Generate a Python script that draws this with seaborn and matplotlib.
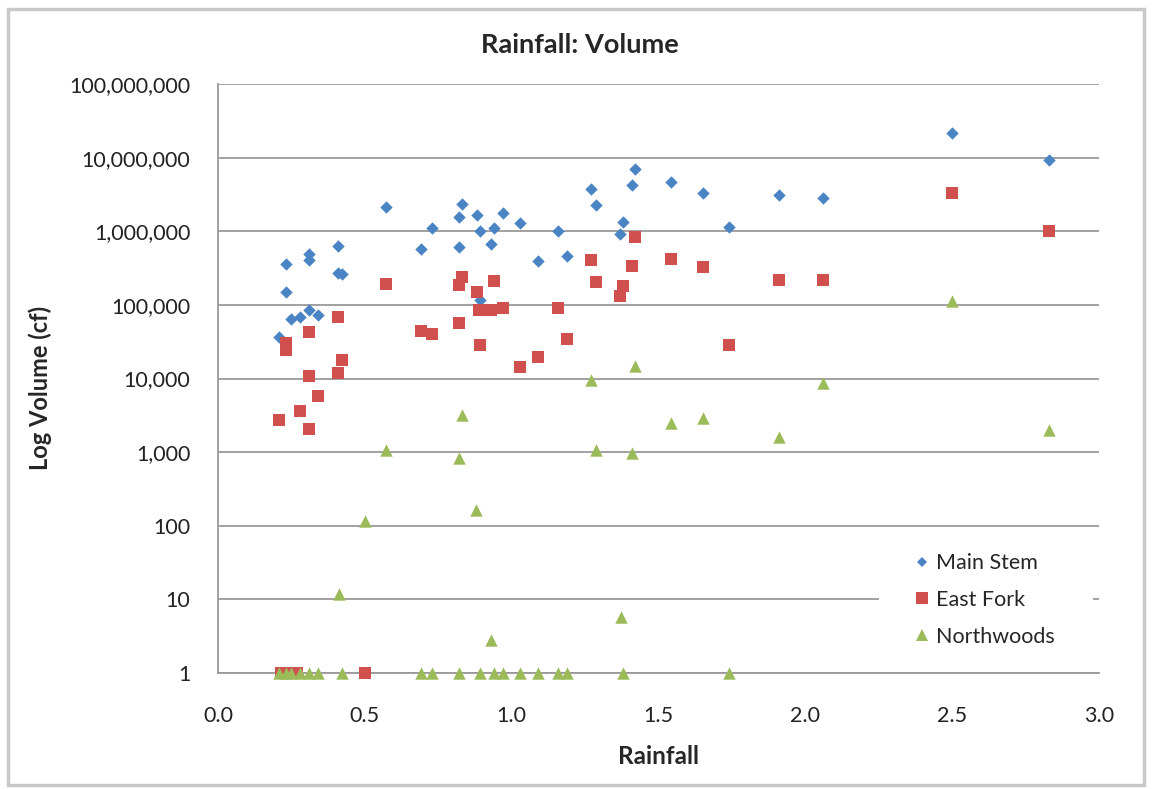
import seaborn as sns
import matplotlib.pyplot as plt
import pandas as pd
from matplotlib.lines import Line2D
from matplotlib.patches import Rectangle
from matplotlib.ticker import FuncFormatter

# Rainfall (x) and volume (cf) per site
ms_rain = [0.207, 0.23, 0.23, 0.249, 0.279, 0.31, 0.339, 0.31, 0.31, 0.41, 0.41, 0.421,
           0.571, 0.69, 0.73, 0.831, 0.82, 0.82, 0.881, 0.892, 0.892, 0.93, 0.94, 0.969,
           1.03, 1.09, 1.159, 1.19, 1.27, 1.287, 1.38, 1.369, 1.421, 1.41, 1.541, 1.65,
           1.741, 1.91, 2.061, 2.50, 2.83]
ms_vol = [36700, 355000, 148000, 65000, 69000, 86000, 74000, 490000, 408000, 624000, 272000, 259000,
          2110000, 572000, 1120000, 2350000, 1570000, 605000, 1660000, 1000000, 116000, 665000, 1100000, 1750000,
          1280000, 398000, 1000000, 464000, 3750000, 2270000, 1350000, 908000, 7100000, 4250000, 4700000, 3280000,
          1150000, 3100000, 2800000, 21500000, 9300000]

ef_rain = [0.208, 0.23, 0.23, 0.279, 0.31, 0.31, 0.31, 0.339, 0.41, 0.41, 0.421, 0.571,
           0.69, 0.73, 0.82, 0.831, 0.82, 0.881, 0.892, 0.89, 0.93, 0.94, 0.969, 1.03,
           1.09, 1.159, 1.19, 1.27, 1.287, 1.369, 1.38, 1.421, 1.41, 1.541, 1.65, 1.741,
           1.91, 2.061, 2.50, 2.83, 0.215, 0.249, 0.27, 0.50]
ef_vol = [2750, 29900, 24700, 3580, 2040, 10800, 42900, 5800, 67400, 11900, 17700, 195000,
          43500, 39600, 56900, 241000, 186000, 150000, 28100, 85000, 85000, 214000, 92000, 14200,
          19600, 91000, 33900, 408000, 202000, 132000, 182000, 826000, 340000, 417000, 329000, 28200,
          217000, 217000, 3340000, 1020000, 1, 1, 1, 1]

nw_rain = [0.571, 0.821, 0.831, 1.287, 1.41, 0.88, 0.50, 0.411, 0.93, 1.371, 1.27, 1.421,
           2.061, 1.541, 1.65, 1.91, 2.50, 2.83,
           0.207, 0.23, 0.249, 0.279, 0.31, 0.339, 0.421, 0.69, 0.73, 0.82, 0.892, 0.94,
           0.969, 1.03, 1.09, 1.159, 1.19, 1.38, 1.741]
nw_vol = [1080, 840, 3160, 1080, 970, 166, 115, 12, 2.8, 5.7, 9400, 14800,
          8800, 2520, 2940, 1620, 113000, 2020,
          1, 1, 1, 1, 1, 1, 1, 1, 1, 1, 1, 1,
          1, 1, 1, 1, 1, 1, 1]

sites = ["Main Stem", "East Fork", "Northwoods"]
colors = {"Main Stem": "#4A84C4", "East Fork": "#D0504D", "Northwoods": "#9BBB59"}
markers = {"Main Stem": "D", "East Fork": "s", "Northwoods": "^"}
sizes = {"Main Stem": 40, "East Fork": 85, "Northwoods": 80}
leg_sizes = {"Main Stem": 5.2, "East Fork": 8, "Northwoods": 8}

df = pd.concat([
    pd.DataFrame({"Rainfall": ms_rain, "Volume": ms_vol, "Site": "Main Stem"}),
    pd.DataFrame({"Rainfall": ef_rain, "Volume": ef_vol, "Site": "East Fork"}),
    pd.DataFrame({"Rainfall": nw_rain, "Volume": nw_vol, "Site": "Northwoods"}),
])

sns.set_style("white")
plt.rcParams['font.family'] = ['Lato', 'DejaVu Sans']

fig = plt.figure(figsize=(11.53, 7.89), dpi=100)
ax = fig.add_axes([218 / 1153, 1 - 673 / 789, (1099 - 218) / 1153, (673 - 84) / 789])

for site in sites:
    sub = df[df["Site"] == site]
    sns.scatterplot(data=sub, x="Rainfall", y="Volume", ax=ax, color=colors[site],
                    marker=markers[site], s=sizes[site], linewidth=0, legend=False,
                    zorder=3, clip_on=False)

ax.set_yscale("log")
ax.set_ylim(1, 1e8)
ax.set_xlim(0, 3.0)
ax.set_yticks([10 ** i for i in range(9)])
ax.yaxis.set_minor_locator(plt.NullLocator())
ax.yaxis.set_major_formatter(FuncFormatter(lambda v, p: f"{v:,.0f}"))
ax.set_xticks([0, 0.5, 1.0, 1.5, 2.0, 2.5, 3.0])
ax.xaxis.set_major_formatter(FuncFormatter(lambda v, p: f"{v:.1f}"))
ax.tick_params(axis="both", length=0, labelsize=15.5, colors="#222222")
ax.tick_params(axis="y", pad=20)
ax.tick_params(axis="x", pad=24)
ax.grid(axis="y", color="#9a9a9a", linewidth=1.3)
ax.set_axisbelow(True)
for side in ["top", "right"]:
    ax.spines[side].set_visible(False)
for side in ["left", "bottom"]:
    ax.spines[side].set_color("#9a9a9a")
    ax.spines[side].set_linewidth(1.3)
ax.set_xlabel("")
ax.set_ylabel("")

fig.text(580 / 1153, 1 - 45 / 789, "Rainfall: Volume", ha="center", va="center",
         fontsize=19.5, fontweight="bold")
fig.text(659 / 1153, 1 - 757 / 789, "Rainfall", ha="center", va="center",
         fontsize=17.5, fontweight="bold")
fig.text(40 / 1153, 1 - 388 / 789, "Log Volume (cf)", ha="center", va="center",
         rotation=90, fontsize=17, fontweight="bold")

# white box behind the legend, hiding the gridline there
ax.add_patch(Rectangle((0.7503, 0.022), 0.243, 0.204, transform=ax.transAxes,
                       facecolor="white", edgecolor="none", zorder=2))
handles = [Line2D([], [], linestyle="none", marker=markers[s], color=colors[s],
                  markersize=leg_sizes[s], markeredgewidth=0) for s in sites]
leg = ax.legend(handles, sites, loc="center left", bbox_to_anchor=(0.792, 0.124),
                frameon=False, fontsize=15.5, handlelength=0.6, handletextpad=0.35,
                labelspacing=0.78, borderpad=0, borderaxespad=0)
leg.set_zorder(5)

fig.patches.append(Rectangle((8 / 1153, 4 / 789), 1136 / 1153, 776 / 789, transform=fig.transFigure,
                             fill=False, edgecolor="#c8c8c8", linewidth=2.5))

plt.savefig("out.png", dpi=100)
plt.close()
